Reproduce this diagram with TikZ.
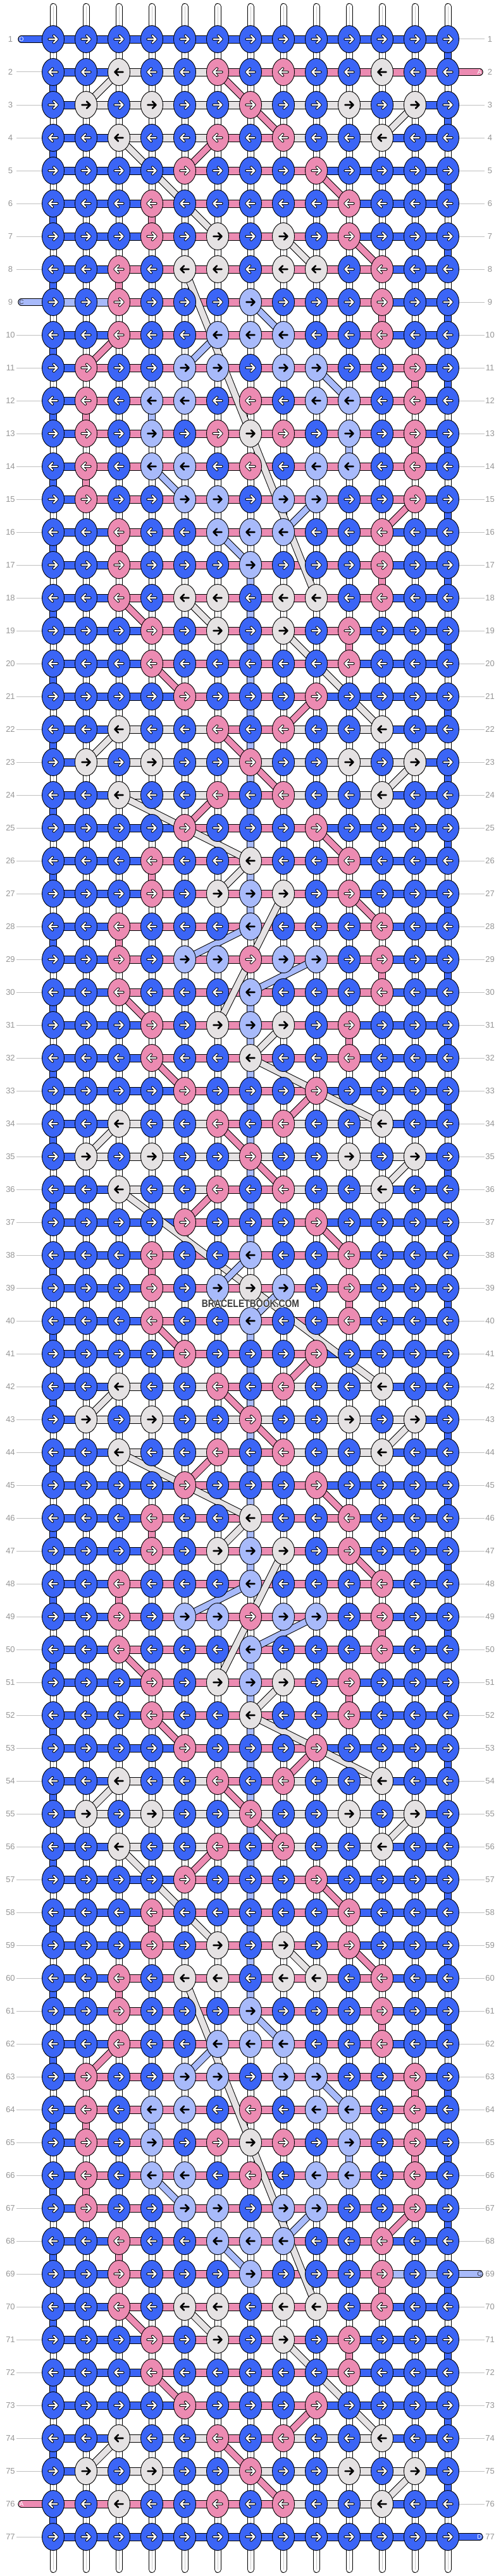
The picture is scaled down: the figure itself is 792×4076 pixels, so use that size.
\documentclass[tikz,border=0pt]{standalone}
\usepackage{fontspec}
\usepackage{graphicx}
\setmainfont{Liberation Sans}
\definecolor{cB}{RGB}{59,101,246}
\definecolor{cP}{RGB}{236,139,178}
\definecolor{cG}{RGB}{229,226,227}
\definecolor{cL}{RGB}{168,186,250}
\definecolor{lblgray}{RGB}{150,150,150}
\definecolor{lingray}{RGB}{192,192,192}
\definecolor{wmgray}{RGB}{60,60,60}
\definecolor{warpgray}{RGB}{200,200,200}
\definecolor{darklbl}{RGB}{60,60,75}

\tikzset{
  knotline/.style={draw=black, line width=0.9pt},
  throut/.style={draw=black, line width=11.5pt},
  thrin/.style={line width=9.5pt},
  segbox/.style={draw=black, line width=0.8pt},
  warpout/.style={draw=black, line width=11pt, line cap=round},
  warpin/.style={draw=white, line width=9pt, line cap=round},
  warpmid/.style={draw=warpgray, line width=0.8pt},
  lbl/.style={text=lblgray, font=\fontsize{13}{15}\selectfont, inner sep=0pt},
  lblline/.style={draw=lingray, line width=1pt},
  arrout/.style={draw=black, line width=4.2pt, line cap=round, line join=round},
  arrin/.style={draw=white, line width=2.2pt, line cap=round, line join=round},
  arrdark/.style={draw=black, line width=2.6pt, line cap=round, line join=round},
  endlbl/.style={font=\fontsize{10}{12}\selectfont, inner sep=0pt},
}

\newcommand\setrow[3]{%
  \expandafter\def\csname K#1\endcsname{#2}%
  \expandafter\def\csname S#1\endcsname{#3}}

\setrow{1}{B,B,B,B,B,B,B,B,B,B,B,B,B}{B,B,B,B,B,B,B,B,B,B,B,B}
\setrow{2}{B,B,G,B,B,P,B,P,B,B,G,B,B}{B,B,G,G,G,P,P,P,P,P,P,P}
\setrow{3}{B,G,B,G,B,B,P,B,B,G,B,G,B}{B,G,G,G,G,G,G,G,G,G,G,B}
\setrow{4}{B,B,G,B,B,P,B,P,B,B,G,B,B}{B,B,G,G,G,P,P,G,G,G,B,B}
\setrow{5}{B,B,B,B,P,B,B,B,P,B,B,B,B}{B,B,B,B,P,P,P,P,B,B,B,B}
\setrow{6}{B,B,B,P,B,B,B,B,B,P,B,B,B}{B,B,B,P,P,P,P,P,P,B,B,B}
\setrow{7}{B,B,B,P,B,G,B,G,B,P,B,B,B}{B,B,B,P,P,P,P,P,P,B,B,B}
\setrow{8}{B,B,P,B,G,G,B,G,G,B,P,B,B}{B,B,P,P,P,P,P,P,P,P,B,B}
\setrow{9}{B,B,P,B,B,B,L,B,B,B,P,B,B}{L,L,P,P,P,P,P,P,P,P,B,B}
\setrow{10}{B,B,P,B,B,L,L,L,B,B,P,B,B}{B,B,P,P,P,P,P,P,P,P,B,B}
\setrow{11}{B,P,B,B,L,L,B,L,L,B,B,P,B}{B,P,P,P,P,P,P,P,P,P,P,B}
\setrow{12}{B,P,B,L,L,B,P,B,L,L,B,P,B}{B,P,P,P,P,P,P,P,P,P,P,B}
\setrow{13}{B,P,B,L,B,P,G,P,B,L,B,P,B}{B,P,P,P,P,P,P,P,P,P,P,B}
\setrow{14}{B,P,B,L,L,B,P,B,L,L,B,P,B}{B,P,P,P,P,P,P,P,P,P,P,B}
\setrow{15}{B,P,B,B,L,L,B,L,L,B,B,P,B}{B,P,P,P,P,P,P,P,P,P,P,B}
\setrow{16}{B,B,P,B,B,L,L,L,B,B,P,B,B}{B,B,P,P,P,P,P,P,P,P,B,B}
\setrow{17}{B,B,P,B,B,B,L,B,B,B,P,B,B}{B,B,P,P,P,P,P,P,P,P,B,B}
\setrow{18}{B,B,P,B,G,G,B,G,G,B,P,B,B}{B,B,P,P,P,P,P,P,P,P,B,B}
\setrow{19}{B,B,B,P,B,G,B,G,B,P,B,B,B}{B,B,B,P,P,P,P,P,P,B,B,B}
\setrow{20}{B,B,B,P,B,B,B,B,B,P,B,B,B}{B,B,B,P,P,P,P,P,P,B,B,B}
\setrow{21}{B,B,B,B,P,B,B,B,P,B,B,B,B}{B,B,B,B,P,P,P,P,B,B,B,B}
\setrow{22}{B,B,G,B,B,P,B,P,B,B,G,B,B}{B,B,G,G,G,P,P,G,G,G,B,B}
\setrow{23}{B,G,B,G,B,B,P,B,B,G,B,G,B}{B,G,G,G,G,G,G,G,G,G,G,B}
\setrow{24}{B,B,G,B,B,P,B,P,B,B,G,B,B}{B,B,G,G,G,P,P,G,G,G,B,B}
\setrow{25}{B,B,B,B,P,B,B,B,P,B,B,B,B}{B,B,B,B,P,P,P,P,B,B,B,B}
\setrow{26}{B,B,B,P,B,B,G,B,B,P,B,B,B}{B,B,B,P,P,P,P,P,P,B,B,B}
\setrow{27}{B,B,B,P,B,G,L,G,B,P,B,B,B}{B,B,B,P,P,P,P,P,P,B,B,B}
\setrow{28}{B,B,P,B,B,B,L,B,B,B,P,B,B}{B,B,P,P,P,P,P,P,P,P,B,B}
\setrow{29}{B,B,P,B,L,L,P,L,L,B,P,B,B}{B,B,P,P,P,P,P,P,P,P,B,B}
\setrow{30}{B,B,P,B,B,B,L,B,B,B,P,B,B}{B,B,P,P,P,P,P,P,P,P,B,B}
\setrow{31}{B,B,B,P,B,G,L,G,B,P,B,B,B}{B,B,B,P,P,P,P,P,P,B,B,B}
\setrow{32}{B,B,B,P,B,B,G,B,B,P,B,B,B}{B,B,B,P,P,P,P,P,P,B,B,B}
\setrow{33}{B,B,B,B,P,B,B,B,P,B,B,B,B}{B,B,B,B,P,P,P,P,B,B,B,B}
\setrow{34}{B,B,G,B,B,P,B,P,B,B,G,B,B}{B,B,G,G,G,P,P,G,G,G,B,B}
\setrow{35}{B,G,B,G,B,B,P,B,B,G,B,G,B}{B,G,G,G,G,G,G,G,G,G,G,B}
\setrow{36}{B,B,G,B,B,P,B,P,B,B,G,B,B}{B,B,G,G,G,P,P,G,G,G,B,B}
\setrow{37}{B,B,B,B,P,B,B,B,P,B,B,B,B}{B,B,B,B,P,P,P,P,B,B,B,B}
\setrow{38}{B,B,B,P,B,B,L,B,B,P,B,B,B}{B,B,B,P,P,P,P,P,P,B,B,B}
\setrow{39}{B,B,B,P,B,L,G,L,B,P,B,B,B}{B,B,B,P,P,P,P,P,P,B,B,B}

\newcommand\drawknot[3]{%
  \filldraw[fill=c#3, knotline] (k-#1-#2) ellipse [x radius=17.5pt, y radius=21.5pt];
  \ifodd#1\relax\def\adir{1}\else\def\adir{-1}\fi
  \def\knotlt{0}\if#3G\def\knotlt{1}\fi\if#3L\def\knotlt{1}\fi
  \ifnum\knotlt=1\relax
    \draw[arrdark, shift={(k-#1-#2)}, xscale=\adir] (-6.5,0) -- (6.5,0) (1,-5.5) -- (6.5,0) -- (1,5.5);
  \else
    \draw[arrout, shift={(k-#1-#2)}, xscale=\adir] (-6.5,0) -- (6.5,0) (1,-5.5) -- (6.5,0) -- (1,5.5);
    \draw[arrin, shift={(k-#1-#2)}, xscale=\adir] (-6.5,0) -- (6.5,0) (1,-5.5) -- (6.5,0) -- (1,5.5);
  \fi}

\begin{document}
\begin{tikzpicture}[x=1pt,y=-1pt]
\useasboundingbox (0,0) rectangle (792,4076);
\fill[white] (0,0) rectangle (792,4076);

% knot positions
\foreach \ri in {1,...,77}{\foreach \ci in {1,...,13}{\coordinate (k-\ri-\ci) at ({32+52*\ci},{10+52*\ri});}}

% row labels
\foreach \ri in {1,...,77}{
  \node[lbl] (ll-\ri) at (16.5,{10+52*\ri}) {\ri};
  \node[lbl] (lr-\ri) at (774.5,{10+52*\ri}) {\ri};
}
\foreach \ri in {2,...,8,10,11,...,75,77}{
  \coordinate (la-\ri) at (26,{10+52*\ri});
  \draw[lblline] (la-\ri) -- (k-\ri-1);
}
\foreach \ri in {1,3,4,...,68,70,71,...,76}{
  \coordinate (lb-\ri) at (766,{10+52*\ri});
  \draw[lblline] (k-\ri-13) -- (lb-\ri);
}

% vertical base strings
\foreach \ci in {1,...,13}{
  \coordinate (wt-\ci) at ({32+52*\ci},10.5);
  \coordinate (wb-\ci) at ({32+52*\ci},4065.5);
  \draw[warpout] (wt-\ci) -- (wb-\ci);
  \draw[warpin] (wt-\ci) -- (wb-\ci);
  \draw[warpmid] (wt-\ci) -- (wb-\ci);
}

% horizontal segments
\foreach \ri in {1,...,39}{
  \edef\slist{\csname S\ri\endcsname}
  \pgfmathtruncatemacro\rmir{78-\ri}
  \foreach \sv [count=\ci] in \slist{
    \pgfmathtruncatemacro\cn{\ci+1}
    \pgfmathtruncatemacro\cma{13-\ci}
    \pgfmathtruncatemacro\cmb{14-\ci}
    \filldraw[segbox, fill=c\sv] ([yshift=6pt]k-\ri-\ci) rectangle ([yshift=-6pt]k-\ri-\cn);
    \ifnum\ri<39\relax
      \filldraw[segbox, fill=c\sv] ([yshift=6pt]k-\rmir-\cma) rectangle ([yshift=-6pt]k-\rmir-\cmb);
    \fi
  }
}

% blue turns at the edges
\foreach \ri in {1,...,76}{
  \pgfmathtruncatemacro\rn{\ri+1}
  \ifodd\ri\relax\def\ec{13}\else\def\ec{1}\fi
  \draw[throut] (k-\ri-\ec) -- (k-\rn-\ec);
  \draw[thrin, draw=cB] (k-\ri-\ec) -- (k-\rn-\ec);
}

% carried threads (top half, plus their 180-degree copies)
\foreach \ra/\ca/\rb/\cb/\col in {
  2/3/3/2/G, 3/12/4/11/G, 4/3/7/6/G, 7/8/8/9/G, 8/5/13/7/G, 13/7/18/9/G, 18/5/19/6/G,
  19/8/22/11/G, 22/3/23/2/G, 23/12/24/11/G, 24/3/26/7/G, 26/7/27/6/G, 27/8/31/6/G,
  31/8/32/7/G, 32/7/34/11/G, 34/3/35/2/G, 35/12/36/11/G, 36/3/39/7/G,
  9/7/10/8/L, 10/6/11/5/L, 11/9/12/10/L, 12/4/13/4/L, 13/10/14/10/L, 14/4/15/5/L,
  15/9/16/8/L, 16/6/17/7/L, 17/7/27/7/L, 27/7/28/7/L, 28/7/29/5/L, 29/9/30/7/L,
  30/7/31/7/L, 31/7/38/7/L, 38/7/39/6/L,
  2/6/3/7/P, 3/7/4/8/P, 4/6/5/5/P, 5/9/6/10/P, 6/4/7/4/P, 7/10/8/11/P, 8/3/9/3/P,
  9/11/10/11/P, 10/3/11/2/P, 11/12/12/12/P, 12/2/13/2/P, 13/12/14/12/P, 14/2/15/2/P,
  15/12/16/11/P, 16/3/17/3/P, 17/11/18/11/P, 18/3/19/4/P, 19/10/20/10/P, 20/4/21/5/P,
  21/9/22/8/P, 22/6/23/7/P, 23/7/24/8/P, 24/6/25/5/P, 25/9/26/10/P, 26/4/27/4/P,
  27/10/28/11/P, 28/3/29/3/P, 29/11/30/11/P, 30/3/31/4/P, 31/10/32/10/P, 32/4/33/5/P,
  33/9/34/8/P, 34/6/35/7/P, 35/7/36/8/P, 36/6/37/5/P, 37/9/38/10/P, 38/4/39/4/P}{
  \pgfmathtruncatemacro\rma{78-\ra}
  \pgfmathtruncatemacro\rmb{78-\rb}
  \pgfmathtruncatemacro\cma{14-\ca}
  \pgfmathtruncatemacro\cmb{14-\cb}
  \draw[throut] (k-\ra-\ca) -- (k-\rb-\cb);
  \draw[thrin, draw=c\col] (k-\ra-\ca) -- (k-\rb-\cb);
  \draw[throut] (k-\rma-\cma) -- (k-\rmb-\cmb);
  \draw[thrin, draw=c\col] (k-\rma-\cma) -- (k-\rmb-\cmb);
}

% thread ends
\coordinate (eD1) at (34,62);
\coordinate (eA2) at (758,114);
\coordinate (eC9) at (34,478);
\coordinate (eC69) at (758,3598);
\coordinate (eA76) at (34,3962);
\coordinate (eD77) at (758,4014);
\foreach \ea/\eb/\ecol in {eD1/k-1-1/B, eA2/k-2-13/P, eC9/k-9-1/L, eC69/k-69-13/L, eA76/k-76-1/P, eD77/k-77-13/B}{
  \draw[throut, line cap=round] (\ea) -- (\eb);
  \draw[thrin, draw=c\ecol, line cap=round] (\ea) -- (\eb);
}
\node[endlbl, text=white] (tD1) at (eD1) {D};
\node[endlbl, text=white] (tA2) at (eA2) {A};
\node[endlbl, text=darklbl] (tC9) at (eC9) {C};
\node[endlbl, text=darklbl] (tC69) at (eC69) {C};
\node[endlbl, text=white] (tA76) at (eA76) {A};
\node[endlbl, text=white] (tD77) at (eD77) {D};

% knots
\foreach \ri in {1,...,39}{
  \edef\klist{\csname K\ri\endcsname}
  \pgfmathtruncatemacro\rmir{78-\ri}
  \foreach \kv [count=\ci] in \klist{
    \pgfmathtruncatemacro\cmir{14-\ci}
    \edef\tmp{\noexpand\drawknot{\ri}{\ci}{\kv}}\tmp
    \ifnum\ri<39\relax
      \edef\tmp{\noexpand\drawknot{\rmir}{\cmir}{\kv}}\tmp
    \fi
  }
}

% watermark (light halo, then dark text)
\foreach \dx/\dy in {-0.8/0,0.8/0,0/-0.8,0/0.8}{
  \node[font=\bfseries\fontsize{16.8}{18}\selectfont, text=white, inner sep=0pt] at ({396+\dx},{2063+\dy}) {\scalebox{0.83}[1]{BRACELETBOOK.COM}};
}
\node[font=\bfseries\fontsize{16.8}{18}\selectfont, text=wmgray, inner sep=0pt] (wm) at (396,2063) {\scalebox{0.83}[1]{BRACELETBOOK.COM}};
\end{tikzpicture}
\end{document}
